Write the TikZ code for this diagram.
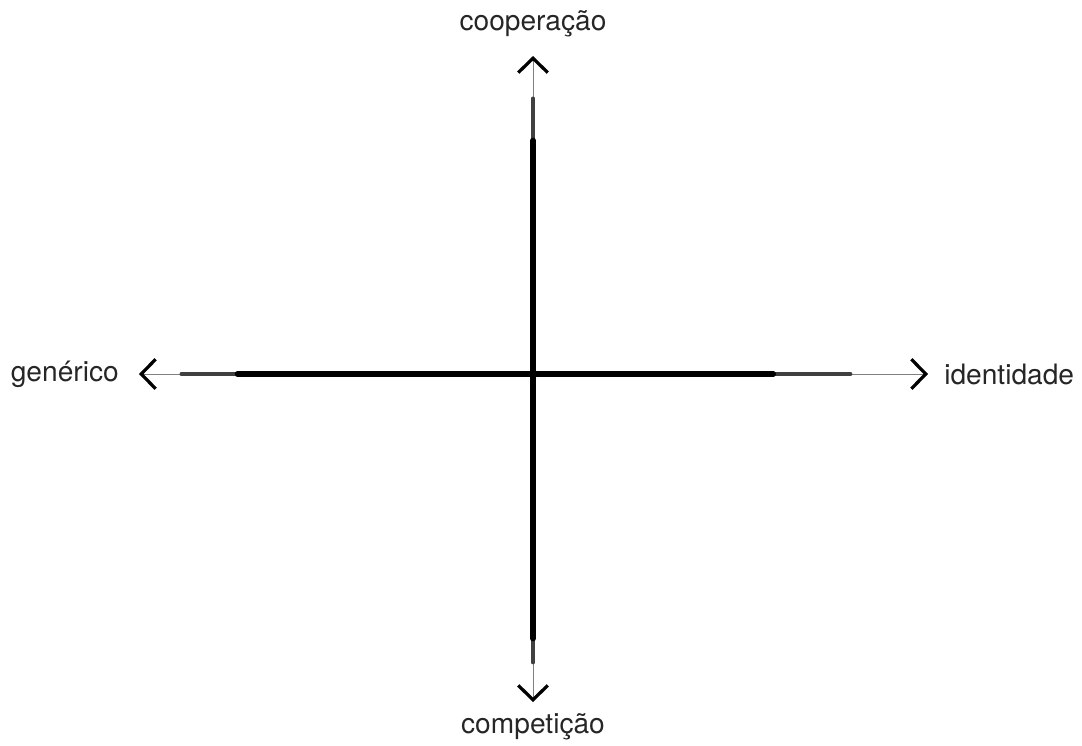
\documentclass[tikz,border=0pt]{standalone}
\usepackage{fontspec}
\setmainfont{TeX Gyre Heros}
\usepackage{tikz}
\usetikzlibrary{arrows.meta}

\begin{document}
\begin{tikzpicture}[
  x=0.025cm, y=-0.025cm,
  lbl/.style  = {font=\fontsize{20}{24}\selectfont, text=black!85, inner sep=0pt},
  barb/.tip   = {Straight Barb[length=3.6mm, width=7.4mm, line width=2.3pt, color=black]},
  thinax/.style = {draw=black!50, line width=0.7pt, barb-barb},
  midax/.style  = {draw=black!75, line width=2.4pt, line cap=round},
  thickax/.style= {draw=black, line width=3.8pt, line cap=round},
]
\useasboundingbox (0,0) rectangle (1082,745);

% ========== Axis ends ==========
\coordinate (top)    at (533, 56);
\coordinate (bottom) at (533, 702);
\coordinate (left)   at (139, 374);
\coordinate (right)  at (928, 374);

% ========== Labels ==========
\node[lbl] (coop)  at (533, 24)  {cooperação};
\node[lbl] (comp)  at (533, 727) {competição};
\node[lbl, anchor=east] (gen) at (119, 374) {genérico};
\node[lbl, anchor=west] (ident) at (944, 374) {identidade};

% ========== Vertical axis (brush look) ==========
\draw[thinax] (bottom) -- (top);
\draw[midax]   ([yshift=-30]top) -- ([yshift=28]bottom);
\draw[thickax] ([yshift=-60]top) -- ([yshift=45]bottom);

% ========== Horizontal axis ==========
\draw[thinax] (left) -- (right);
\draw[midax]   ([xshift=30]left) -- ([xshift=-55]right);
\draw[thickax] ([xshift=70]left) -- ([xshift=-110]right);

\end{tikzpicture}
\end{document}
